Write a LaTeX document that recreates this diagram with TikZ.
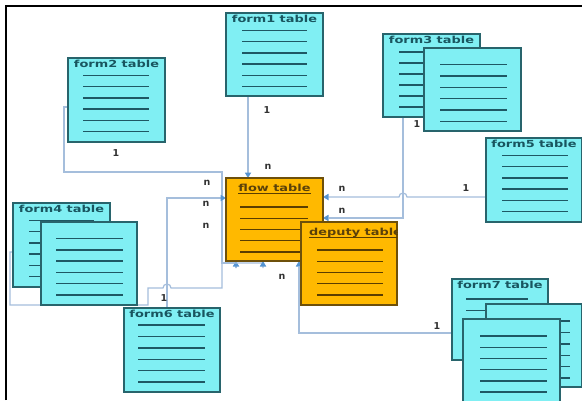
\documentclass[tikz,border=0pt]{standalone}
\usepackage{fontspec}
\newfontfamily\ttlfont{DejaVu Sans}[FakeStretch=1.33]
\newfontfamily\lblfont{DejaVu Sans}
\usetikzlibrary{arrows.meta,backgrounds}
\definecolor{cyanfill}{RGB}{128,239,243}
\definecolor{cyanedge}{RGB}{40,100,108}
\definecolor{cyanline}{RGB}{30,88,100}
\definecolor{cyantext}{RGB}{25,85,95}
\definecolor{orangefill}{RGB}{255,185,0}
\definecolor{orangeedge}{RGB}{110,80,10}
\definecolor{orangeline}{RGB}{90,62,0}
\definecolor{orangetext}{RGB}{90,65,10}
\definecolor{connline}{RGB}{165,190,220}
\definecolor{arrowfill}{RGB}{85,148,210}
\definecolor{lbltext}{RGB}{50,50,50}
\begin{document}
\begin{tikzpicture}[x=1pt,y=-1pt,
  cbox/.style={draw=cyanedge, fill=cyanfill, line width=1.3pt, minimum width=97pt, minimum height=84pt, anchor=north west, inner sep=0pt, outer sep=0pt},
  obox/.style={cbox, draw=orangeedge, fill=orangefill},
  cline/.style={draw=cyanline, line width=1.4pt},
  oline/.style={draw=orangeline, line width=1.4pt},
  ctitle/.style={font=\ttlfont\bfseries\fontsize{9.7}{10}\selectfont, text=cyantext, inner sep=0pt, anchor=base},
  otitle/.style={ctitle, text=orangetext},
  conn/.style={draw=connline, line width=1.2pt},
  arr/.style={conn, -{Triangle[width=6.5pt,length=5.5pt,color=arrowfill,line width=0pt]}},
  lbl/.style={font=\lblfont\bfseries\fontsize{9.5}{10}\selectfont, text=lbltext, inner sep=0pt},
]
\useasboundingbox (0,0) rectangle (582,400);

% ---------- boxes ----------
\node[cbox] (form2) at (68,58) {};
\node[ctitle] (form2t) at ([yshift=-9pt]form2.north) {form2 table};
\foreach \k in {0,...,5} {\pgfmathsetmacro\yy{17.5+11.2*\k}\draw[cline] (form2.north west) ++(15,\yy) -- ++(66,0);}

\node[cbox, minimum height=83pt] (form1) at (226,13) {};
\node[ctitle] (form1t) at ([yshift=-9pt]form1.north) {form1 table};
\foreach \k in {0,...,5} {\pgfmathsetmacro\yy{17.5+11.2*\k}\draw[cline] (form1.north west) ++(16,\yy) -- ++(65,0);}

\node[cbox, minimum height=83pt] (form3b) at (383,34) {};
\node[ctitle] (form3t) at ([yshift=-9pt]form3b.north) {form3 table};
\foreach \k in {0,...,5} {\pgfmathsetmacro\yy{18+11*\k}\draw[cline] (form3b.north west) ++(16,\yy) -- ++(65,0);}
\node[cbox, minimum height=83pt] (form3f) at (424,48) {};
\foreach \k in {0,...,5} {\pgfmathsetmacro\yy{16.5+11.4*\k}\draw[cline] (form3f.north west) ++(16,\yy) -- ++(67,0);}

\node[cbox, minimum width=96pt] (form5) at (486,138) {};
\node[ctitle] (form5t) at ([yshift=-9pt]form5.north) {form5 table};
\foreach \k in {0,...,5} {\pgfmathsetmacro\yy{17.5+11.2*\k}\draw[cline] (form5.north west) ++(16,\yy) -- ++(66,0);}

\node[cbox] (form4b) at (13,203) {};
\node[ctitle] (form4t) at ([yshift=-9pt]form4b.north) {form4 table};
\foreach \k in {0,...,5} {\pgfmathsetmacro\yy{17.5+11.2*\k}\draw[cline] (form4b.north west) ++(16,\yy) -- ++(65,0);}
\node[cbox, minimum width=96pt, minimum height=83pt] (form4f) at (41,222) {};
\foreach \k in {0,...,5} {\pgfmathsetmacro\yy{16.5+11.3*\k}\draw[cline] (form4f.north west) ++(15,\yy) -- ++(67,0);}

\node[cbox, minimum width=96pt] (form6) at (124,308) {};
\node[ctitle] (form6t) at ([yshift=-9pt]form6.north) {form6 table};
\foreach \k in {0,...,5} {\pgfmathsetmacro\yy{17+11.4*\k}\draw[cline] (form6.north west) ++(14,\yy) -- ++(67,0);}

\node[obox, minimum height=83pt] (flow) at (226,178) {};
\node[otitle] (flowt) at ([yshift=-13.5pt]flow.north) {flow table};
\draw[oline, line width=0.9pt] ([yshift=-1.8pt]flowt.base west) -- ([yshift=-1.8pt]flowt.base east);
\foreach \k in {0,...,4} {\pgfmathsetmacro\yy{29+11.2*\k}\draw[oline] (flow.north west) ++(14,\yy) -- ++(68,0);}

\node[obox, minimum width=96pt, minimum height=83pt] (deputy) at (301,222) {};
\begin{scope}
\clip (deputy.north west) rectangle (deputy.south east);
\node[otitle, anchor=base west] (deputyt) at ([xshift=8pt,yshift=-13.5pt]deputy.north west) {deputy table};
\draw[oline, line width=0.9pt] ([yshift=-1.8pt]deputyt.base west) -- ([yshift=-1.8pt]deputyt.base east);
\end{scope}
\foreach \k in {0,...,4} {\pgfmathsetmacro\yy{28+11.2*\k}\draw[oline] (deputy.north west) ++(16,\yy) -- ++(66,0);}

\node[cbox, minimum width=96pt, minimum height=81pt] (form7b) at (452,279) {};
\node[ctitle] (form7t) at ([yshift=-9pt]form7b.north) {form7 table};
\foreach \k in {0,...,5} {\pgfmathsetmacro\yy{20+11.3*\k}\draw[cline] (form7b.north west) ++(14,\yy) -- ++(62,0);}
\node[cbox, minimum width=96pt, minimum height=83pt] (form7m) at (486,304) {};
\foreach \k in {0,...,5} {\pgfmathsetmacro\yy{17+11.4*\k}\draw[cline] (form7m.north west) ++(16,\yy) -- ++(68,0);}
\node[cbox, minimum width=97pt, minimum height=92pt] (form7f) at (463,319) {};
\foreach \k in {0,...,5} {\pgfmathsetmacro\yy{17+11.2*\k}\draw[cline] (form7f.north west) ++(17,\yy) -- ++(67,0);}

% ---------- background, frame and connectors ----------
\begin{scope}[on background layer]
\fill[white] (0,0) rectangle (582,400);
\draw[line width=2pt] (6,400) -- (6,6) -- (582,6);

\draw[arr] ([xshift=22pt]form1.south west) -- ([xshift=22pt]flow.north west);
\draw[arr] ([yshift=-59pt]form5.north west) -- (407,197) arc[start angle=0,end angle=180,radius=4pt] -- ([yshift=-19pt]flow.north east);
\draw[arr] ([xshift=20pt]form3b.south west) |- ([yshift=-40pt]flow.north east);
\draw[arr] ([yshift=-49pt]form2.north west) -- (64,107) -- (64,172) -- (222,172) -- (222,263) -- (236,263) -- (236,268) -- ([xshift=10pt]flow.south west);
\draw[arr] ([yshift=-49pt]form4b.north west) -- (10,252) -- (10,305) -- (148,305) -- (148,288) -- (163,288) arc[start angle=180,end angle=0,radius=4pt] -- (222,288) -- (222,263) -- (263,263) -- (263,268) -- ([xshift=37pt]flow.south west);
\draw[arr] ([xshift=43pt]form6.north west) |- ([yshift=-20pt]flow.north west);
\draw[arr] ([yshift=-54pt]form7b.north west) -| ([xshift=73pt]flow.south west);
\end{scope}

% ---------- multiplicity labels ----------
\node[lbl] (l1) at (267,110) {1};
\node[lbl] (l2) at (268,167) {n};
\node[lbl] (l3) at (116,153) {1};
\node[lbl] (l4) at (207,183) {n};
\node[lbl] (l5) at (206,204) {n};
\node[lbl] (l6) at (206,226) {n};
\node[lbl] (l7) at (164,298) {1};
\node[lbl] (l8) at (282,277) {n};
\node[lbl] (l9) at (342,189) {n};
\node[lbl] (l10) at (342,211) {n};
\node[lbl] (l11) at (466,188) {1};
\node[lbl] (l12) at (417,124) {1};
\node[lbl] (l13) at (437,326) {1};
\end{tikzpicture}
\end{document}
